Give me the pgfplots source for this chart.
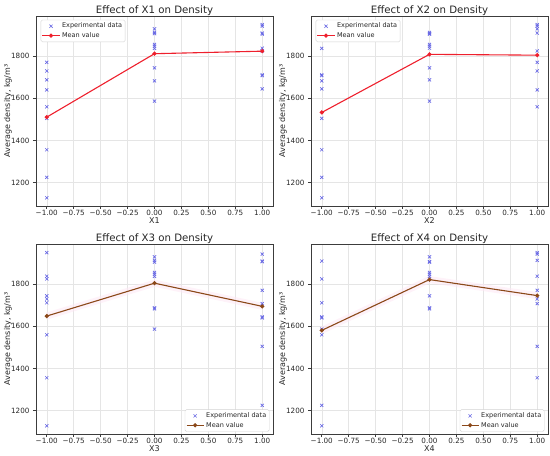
\documentclass[border=0pt]{standalone}
\usepackage{fontspec}
\setmainfont{DejaVu Sans}
\usepackage{pgfplots}
\pgfplotsset{compat=1.18}
\definecolor{scatcol}{RGB}{105,105,228}
\definecolor{meanred}{RGB}{238,32,45}
\definecolor{meanbrown}{RGB}{139,72,25}
\definecolor{bandcol}{RGB}{253,232,244}
\definecolor{spine}{RGB}{60,60,60}
\pgfplotsset{
  myax/.style={
    scale only axis, width=237pt, height=190pt,
    xmin=-1.1, xmax=1.1, ymin=1089, ymax=1991,
    xtick={-1,-0.75,-0.5,-0.25,0,0.25,0.5,0.75,1},
    xticklabels={−1.00,−0.75,−0.50,−0.25,0.00,0.25,0.50,0.75,1.00},
    ytick={1200,1400,1600,1800},
    /pgf/number format/1000 sep={},
    /pgf/number format/assume math mode=true,
    grid=major, major grid style={gray!20, line width=0.5pt},
    axis line style={spine, line width=0.7pt},
    tick style={spine, line width=0.6pt},
    tick align=outside, tick pos=left, major tick length=3pt,
    ticklabel style={font=\fontsize{7.2}{8}\selectfont, text=black!85},
    xticklabel style={inner sep=1pt},
    label style={font=\fontsize{8}{9}\selectfont, text=black!85},
    title style={font=\fontsize{10.2}{12}\selectfont, text=black!85,
      at={(axis description cs:0.5,1)}, anchor=base, inner sep=0pt, yshift=-3.3pt},
    ylabel={Average density, kg/m³},
    ylabel style={yshift=-7.5pt},
    xlabel style={at={(axis description cs:0.5,0)}, anchor=base, inner sep=0pt, yshift=-17.5pt},
    legend cell align=left,
    legend style={font=\fontsize{6.5}{7.5}\selectfont, draw=gray!35, rounded corners=1.5pt,
      inner sep=1pt, row sep=-1pt, text=black!85},
  },
  scatmarks/.style={only marks, mark=x, mark size=2.2pt, color=scatcol, mark options={line width=0.65pt}},
  meanl/.style={color=#1, line width=1.1pt, mark=*, mark size=1.5pt},
  bandl/.style={color=bandcol, line width=7pt, opacity=0.55, forget plot},
}
\begin{document}
\begin{tikzpicture}
\useasboundingbox (0,0) rectangle (550pt,456pt);
% ---------- X1 ----------
\begin{axis}[myax, at={(36pt,250pt)}, anchor=south west,
  title={Effect of X1 on Density}, xlabel={X1},
  legend style={at={(0.02,0.98)}, anchor=north west}]
\addplot[scatmarks] coordinates {
(-1,1771) (-1,1730) (-1,1688) (-1,1640) (-1,1560) (-1,1505) (-1,1356) (-1,1225) (-1,1128)
(0,1930) (0,1913) (0,1907) (0,1856) (0,1848) (0,1837) (0,1745) (0,1683) (0,1587)
(1,1950) (1,1943) (1,1910) (1,1905) (1,1838) (1,1825) (1,1712) (1,1708) (1,1645)};
\addlegendentry{Experimental data}
\addplot[meanl=meanred] coordinates {(-1,1511) (0,1812) (1,1824)};
\addlegendentry{Mean value}
\end{axis}
% ---------- X2 ----------
\begin{axis}[myax, at={(311pt,250pt)}, anchor=south west,
  title={Effect of X2 on Density}, xlabel={X2},
  legend style={at={(0.02,0.98)}, anchor=north west}]
\addplot[scatmarks] coordinates {
(-1,1837) (-1,1712) (-1,1708) (-1,1683) (-1,1645) (-1,1505) (-1,1356) (-1,1225) (-1,1128)
(0,1913) (0,1907) (0,1905) (0,1856) (0,1848) (0,1838) (0,1745) (0,1688) (0,1587)
(1,1950) (1,1943) (1,1930) (1,1910) (1,1825) (1,1771) (1,1730) (1,1640) (1,1560)};
\addlegendentry{Experimental data}
\addplot[meanl=meanred] coordinates {(-1,1533) (0,1809) (1,1805)};
\addlegendentry{Mean value}
\end{axis}
% ---------- X3 ----------
\begin{axis}[myax, at={(36pt,22pt)}, anchor=south west,
  title={Effect of X3 on Density}, xlabel={X3},
  legend style={at={(0.985,0.012)}, anchor=south east}]
\addplot[bandl] coordinates {(-1,1649) (0,1805) (1,1695)};
\addplot[scatmarks] coordinates {
(-1,1950) (-1,1838) (-1,1825) (-1,1745) (-1,1730) (-1,1712) (-1,1560) (-1,1356) (-1,1128)
(0,1930) (0,1913) (0,1905) (0,1856) (0,1848) (0,1837) (0,1688) (0,1683) (0,1587)
(1,1943) (1,1910) (1,1907) (1,1771) (1,1708) (1,1645) (1,1640) (1,1505) (1,1225)};
\addlegendentry{Experimental data}
\addplot[meanl=meanbrown] coordinates {(-1,1649) (0,1805) (1,1695)};
\addlegendentry{Mean value}
\end{axis}
% ---------- X4 ----------
\begin{axis}[myax, at={(311pt,22pt)}, anchor=south west,
  title={Effect of X4 on Density}, xlabel={X4},
  legend style={at={(0.985,0.012)}, anchor=south east}]
\addplot[bandl] coordinates {(-1,1581) (0,1822) (1,1746)};
\addplot[scatmarks] coordinates {
(-1,1910) (-1,1825) (-1,1712) (-1,1645) (-1,1640) (-1,1587) (-1,1560) (-1,1225) (-1,1128)
(0,1930) (0,1907) (0,1905) (0,1856) (0,1848) (0,1837) (0,1745) (0,1688) (0,1683)
(1,1950) (1,1943) (1,1913) (1,1838) (1,1771) (1,1730) (1,1708) (1,1505) (1,1356)};
\addlegendentry{Experimental data}
\addplot[meanl=meanbrown] coordinates {(-1,1581) (0,1822) (1,1746)};
\addlegendentry{Mean value}
\end{axis}
\end{tikzpicture}
\end{document}
